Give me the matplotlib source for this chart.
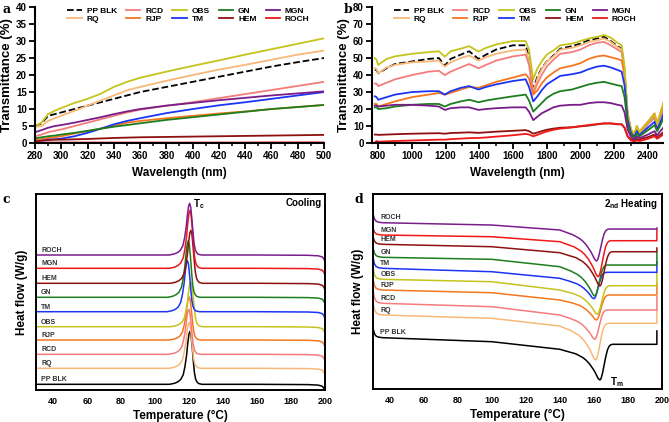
import numpy as np
import matplotlib
matplotlib.use("Agg")
import matplotlib.pyplot as plt
from matplotlib.ticker import MultipleLocator

plt.rcParams['font.family'] = ['Liberation Sans', 'DejaVu Sans']
plt.rcParams['font.weight'] = 'bold'
plt.rcParams['axes.labelweight'] = 'bold'

names = ["PP BLK", "RQ", "RCD", "RJP", "OBS", "TM", "GN", "HEM", "MGN", "ROCH"]
colors = {"PP BLK": "black", "RQ": "#f8b878", "RCD": "#f47c7c", "RJP": "#f5761e",
          "OBS": "#c4c41c", "TM": "#1c35f5", "GN": "#1e7d1e", "HEM": "#8e1010",
          "MGN": "#7a1c8a", "ROCH": "#f01818"}
# the DSC panels swap the two colours of MGN and ROCH
dsc_colors = dict(colors, MGN="#f01818", ROCH="#7a1c8a")

# ---- panel a : UV transmittance
wl_a = [280, 285, 290, 295, 300, 310, 320, 330, 340, 350, 360, 380, 400, 420, 440, 460, 480, 500]
uv = {
    "OBS":    [5, 6, 8.5, 9.5, 10.3, 11.8, 13, 14.5, 16.5, 18, 19.2, 21, 22.7, 24.3, 26, 27.6, 29.2, 30.8],
    "PP BLK": [5, 5.8, 8, 8.5, 9, 10, 11, 12, 13, 14, 15, 16.5, 18, 19.5, 21, 22.5, 23.8, 25],
    "RQ":     [4.8, 5, 6.5, 7.3, 8, 9.5, 11, 12.5, 14, 15.5, 16.5, 18.3, 20, 21.6, 23, 24.5, 26, 27.2],
    "RCD":    [2, 2.5, 3.2, 3.6, 4, 5, 6, 7, 8, 9, 9.8, 11, 12, 13.2, 14.4, 15.6, 16.8, 18],
    "MGN":    [3.2, 3.8, 4.5, 5, 5.3, 6, 6.8, 7.6, 8.5, 9.3, 10, 11, 11.8, 12.6, 13.3, 14, 14.6, 15.2],
    "TM":     [0.5, 0.7, 1, 1.1, 1.3, 2, 3, 4.2, 5.5, 6.5, 7.3, 8.8, 10, 11.1, 12, 13, 14, 15],
    "RJP":    [1, 1.2, 1.5, 1.7, 2, 2.8, 3.5, 4.3, 5, 6, 6.5, 7.3, 8, 8.7, 9.3, 10, 10.6, 11.2],
    "GN":     [1.4, 1.7, 2, 2.2, 2.5, 3, 3.6, 4.2, 4.8, 5.3, 5.8, 6.8, 7.6, 8.4, 9.2, 10, 10.6, 11.2],
    "HEM":    [0.5, 0.7, 0.9, 1, 1, 1.1, 1.2, 1.35, 1.5, 1.6, 1.7, 1.8, 1.9, 2, 2.1, 2.2, 2.3, 2.4],
    "ROCH":   [0.15, 0.15, 0.15, 0.15, 0.15, 0.15, 0.15, 0.15, 0.15, 0.15, 0.15, 0.15, 0.15, 0.15, 0.15, 0.2, 0.2, 0.2],
}

# ---- panel b : NIR transmittance
wl_b = [780, 790, 800, 850, 900, 1000, 1100, 1160, 1195, 1230, 1290, 1340, 1395, 1440, 1500, 1600, 1675,
        1695, 1720, 1745, 1770, 1800, 1840, 1880, 1950, 2000, 2050, 2100, 2140, 2180, 2220, 2245, 2262,
        2280, 2300, 2320, 2335, 2350, 2365, 2400, 2440, 2455, 2470, 2500]
nir = {
    "OBS":    [50, 49, 46, 49.5, 51, 52.5, 53.5, 54, 50.8, 54, 55.5, 57, 53.8, 56, 58, 60, 60,
               55, 37.5, 44, 48, 52, 54.5, 57.5, 58.5, 60, 61.5, 62.5, 63.5, 62, 59, 57.5, 45,
               18, 8, 5, 10, 6, 8, 12, 17, 11, 16, 26],
    "PP BLK": [43, 43, 41, 44, 46.5, 48, 49.5, 50, 45.5, 49.5, 52, 54, 49.5, 52, 55, 57.5, 57.5,
               50, 32, 39, 44, 48, 51.5, 55.5, 57, 58.5, 60.5, 61.5, 62.5, 60, 57, 55.5, 43,
               16, 7, 4, 8.5, 5, 7, 11, 15.5, 9.5, 14.5, 24],
    "RQ":     [44, 43.5, 41, 44.5, 46, 47.5, 48, 48.5, 45, 47.5, 50, 51.5, 48.5, 50.5, 52.5, 54.5, 55,
               49, 30, 38, 43.5, 48, 51, 55, 56, 57.5, 59.5, 60.5, 61.5, 59.5, 56.5, 55, 43,
               17, 8, 4.5, 9.5, 5.5, 7.5, 11.5, 16.5, 10.5, 15, 25],
    "RCD":    [35, 35, 33.5, 35.5, 37.5, 40, 42, 42.5, 40, 42, 44.5, 46.5, 44, 46, 48.5, 51, 52,
               46, 29, 35, 40, 45, 49, 52.5, 53.5, 55, 57.5, 59, 59.5, 57.5, 55, 53.5, 42,
               16, 7, 4, 8.5, 5, 7, 11, 15.5, 9.5, 14, 23],
    "RJP":    [23, 23, 21.5, 23, 24.5, 27, 28.5, 29.5, 28.5, 29.5, 31.5, 33, 32.5, 34, 36, 38.5, 40.5,
               38, 28.5, 31, 35, 38.5, 41.5, 44, 45.5, 47, 49.5, 51, 51.5, 50.5, 49.5, 48.5, 40,
               16, 8, 5, 10, 6.5, 8.5, 12.5, 17.5, 11.5, 16, 26],
    "TM":     [27.5, 27, 25.5, 27, 28.5, 30, 30.5, 30.5, 28.5, 30.5, 32.5, 33.5, 31.5, 33, 34.5, 36.5, 37.5,
               33, 24.5, 27.5, 31, 34.5, 37, 39.5, 40.5, 41.5, 43.5, 45, 45.5, 44.5, 43, 42, 34,
               14, 6, 3.5, 7, 4.5, 6, 9, 12.5, 8, 11, 19],
    "GN":     [21, 21, 20, 20.5, 21.5, 22.5, 23, 23, 21.5, 23, 24.5, 25.5, 24, 25, 26, 27.5, 28.5,
               25, 18.5, 21, 23.5, 26.5, 29, 30.5, 31.5, 33, 34.5, 35.5, 36, 35, 34, 33.5, 27,
               11, 5, 3, 5.5, 4, 5, 7.5, 10.5, 7, 9.5, 16],
    "MGN":    [22, 22, 21.5, 22, 22.5, 22.5, 22, 21.5, 19.5, 20.5, 21, 21, 19.5, 20, 20.5, 21, 21,
               18.5, 13.5, 15.5, 17.5, 19, 21, 22, 22.5, 22.5, 23.5, 24, 24, 23.5, 22.5, 22, 18,
               8, 3.5, 2, 4, 3, 3.5, 5, 7, 4.5, 6.5, 10],
    "HEM":    [5, 5, 4.8, 5, 5.2, 5.5, 5.7, 5.8, 5.5, 5.9, 6.1, 6.3, 6, 6.3, 6.7, 7.2, 7.6,
               7, 5.5, 6.2, 7, 7.8, 8.5, 9, 9.3, 9.8, 10.3, 11, 11.5, 11.5, 11, 11, 9,
               4, 2, 1.5, 2.5, 2, 2.5, 3.5, 5, 3, 4.5, 7],
    "ROCH":   [0.3, 1.2, 0.8, 1, 1.2, 1.5, 1.8, 2, 2, 2.3, 2.6, 2.9, 3, 3.3, 3.8, 4.6, 5.4,
               5, 4, 4.8, 5.8, 6.8, 7.8, 8.5, 9.2, 10, 10.6, 11.2, 11.6, 11.6, 11.2, 11, 9,
               4, 1.5, 1, 1.5, 1.2, 1.5, 2.5, 4, 2.5, 3.5, 5.5],
}

# ---- panel c : DSC cooling (stacked, arbitrary units)
c_base = {"PP BLK": 5.7, "RQ": 21.7, "RCD": 35.7, "RJP": 50, "OBS": 63.3,
          "TM": 78.3, "GN": 92.7, "HEM": 106.7, "MGN": 121.7, "ROCH": 135}
c_tc = {"PP BLK": 120.5, "RQ": 120, "RCD": 119.8, "RJP": 120, "OBS": 121,
        "TM": 119, "GN": 119.5, "HEM": 121, "MGN": 120.5, "ROCH": 120.3}
c_height = {"PP BLK": 53, "RQ": 46, "RCD": 45, "RJP": 43, "OBS": 45,
            "TM": 51, "GN": 56.6, "HEM": 53, "MGN": 58, "ROCH": 51.7}
# peak profile (offset from Tc, fraction of height)
c_peak_dt = [-12, -9, -7, -5.5, -4, -3, -2, -1.3, -0.6, 0, 0.6, 1.3, 2, 2.6, 3.3, 4, 5, 7]
c_peak_fr = [0, 0.02, 0.05, 0.09, 0.18, 0.33, 0.55, 0.78, 0.95, 1.0, 0.93, 0.7, 0.42, 0.22, 0.1, 0.05, 0.015, 0]
c_left_t = [30, 60, 90, 100]
c_right_t = [130, 160, 190, 196, 198.5, 199.5, 200]
c_right_dy = [0, 0, -0.3, -0.8, -2, -4.5, -7]

# ---- panel d : DSC 2nd heating
d_hook = {"PP BLK": 64.7, "RQ": 92.3, "RCD": 104, "RJP": 114, "OBS": 125.7,
          "TM": 135.7, "GN": 145.7, "HEM": 155.7, "MGN": 164, "ROCH": 179}
d_b35 = {"PP BLK": 51.3, "RQ": 74, "RCD": 85.7, "RJP": 99, "OBS": 109.7,
         "TM": 120.7, "GN": 131.7, "HEM": 144.7, "MGN": 154, "ROCH": 166.3}
d_b100 = {"PP BLK": 47.3, "RQ": 70.7, "RCD": 82.3, "RJP": 96.3, "OBS": 107.3,
          "TM": 117.3, "GN": 129.7, "HEM": 142.3, "MGN": 152.3, "ROCH": 164}
d_b140 = {"PP BLK": 39.7, "RQ": 63, "RCD": 74, "RJP": 89, "OBS": 99,
          "TM": 110.7, "GN": 122.3, "HEM": 136.3, "MGN": 147.3, "ROCH": 159}
d_tm = {"PP BLK": 163.5, "RQ": 161, "RCD": 160.5, "RJP": 161.5, "OBS": 162,
        "TM": 160, "GN": 160.5, "HEM": 163.5, "MGN": 162.5, "ROCH": 161.5}
d_min = {"PP BLK": 9, "RQ": 29, "RCD": 49.7, "RJP": 69, "OBS": 74.7,
         "TM": 90.3, "GN": 93, "HEM": 103, "MGN": 112.3, "ROCH": 128}
d_flat = {"PP BLK": 44.7, "RQ": 65.7, "RCD": 79, "RJP": 94, "OBS": 103.3,
          "TM": 116.7, "GN": 124, "HEM": 137.3, "MGN": 148.3, "ROCH": 160}
d_end = {"PP BLK": 58, "RQ": 79, "RCD": 92.3, "RJP": 105.7, "OBS": 115.7,
         "TM": 127.3, "GN": 137, "HEM": 141, "MGN": 159, "ROCH": 161}
d_hook_t = [30, 30.4, 31, 32, 33.5, 36]
d_hook_fr = [1, 0.6, 0.3, 0.12, 0.04, 0]
d_down_dt = [-14, -10, -8, -6, -4, -3, -2, -1, 0]
d_down_fr = [0.15, 0.27, 0.36, 0.48, 0.64, 0.73, 0.84, 0.95, 1.0]
d_up_dt = [0.7, 1.5, 2.5, 3.5, 4.5, 5.5, 6.5, 7.5]
d_up_fr = [0.96, 0.82, 0.58, 0.34, 0.15, 0.05, 0.01, 0]

fig = plt.figure(figsize=(6.69, 4.22), dpi=100)
ax_a = fig.add_axes([0.0523, 0.661, 0.432, 0.3223])
ax_b = fig.add_axes([0.556, 0.661, 0.435, 0.3223])
ax_c = fig.add_axes([0.0543, 0.0758, 0.4315, 0.4645])
ax_d = fig.add_axes([0.5571, 0.0782, 0.4324, 0.462])

def style_spectrum(ax):
    for s in ["top", "right"]:
        ax.spines[s].set_visible(False)
    for s in ["left", "bottom"]:
        ax.spines[s].set_linewidth(1.5)
    ax.tick_params(which="major", length=4, width=1.3, labelsize=7, pad=2)
    ax.tick_params(which="minor", length=2.5, width=1.1)
    for lab in ax.get_xticklabels() + ax.get_yticklabels():
        lab.set_fontweight("bold")
    ax.set_xlabel("Wavelength (nm)", fontsize=8.5, labelpad=4)
    ax.set_ylabel("Transmittance (%)", fontsize=9.5, labelpad=2)

for ax, x, data, lx in [(ax_a, wl_a, uv, 0.095), (ax_b, wl_b, nir, 0.06)]:
    for n in names:
        ls = "--" if n == "PP BLK" else "-"
        ax.plot(x, data[n], color=colors[n], ls=ls, lw=1.3, label=n)
    ax.legend(ncol=5, loc="upper left", bbox_to_anchor=(lx, 1.035), frameon=False,
              handlelength=1.7, handletextpad=0.6, columnspacing=1.1, labelspacing=0.05,
              borderaxespad=0.2, prop={"weight": "bold", "size": 6})

ax_a.set_xlim(280, 500)
ax_a.set_ylim(0, 40)
ax_a.xaxis.set_major_locator(MultipleLocator(20))
ax_a.xaxis.set_minor_locator(MultipleLocator(10))
ax_a.yaxis.set_major_locator(MultipleLocator(5))
style_spectrum(ax_a)

ax_b.set_xlim(763, 2490)
ax_b.set_ylim(0, 80)
ax_b.xaxis.set_major_locator(MultipleLocator(200))
ax_b.xaxis.set_minor_locator(MultipleLocator(100))
ax_b.yaxis.set_major_locator(MultipleLocator(10))
style_spectrum(ax_b)

# cooling curves
for n in names:
    b, tc, h = c_base[n], c_tc[n], c_height[n]
    t = list(c_left_t) + [tc + d for d in c_peak_dt] + list(c_right_t)
    y = [b] * len(c_left_t) + [b + h * f for f in c_peak_fr] + [b + d for d in c_right_dy]
    ax_c.plot(t, y, color=dsc_colors[n], lw=1.1)
    ax_c.text(32.8, b + 3.2, n, fontsize=5, fontweight="bold", color="#333333")
ax_c.text(122.3, 183, "T$_\\mathregular{c}$", fontsize=7, fontweight="bold")
ax_c.text(198, 184, "Cooling", fontsize=7, fontweight="bold", ha="right")
ax_c.set_xlim(30, 200)
ax_c.set_ylim(0, 196)

# 2nd heating curves
for n in names:
    t = list(d_hook_t) + [100, 140]
    y = [d_b35[n] + (d_hook[n] - d_b35[n]) * f for f in d_hook_fr] + [d_b100[n], d_b140[n]]
    tm = d_tm[n]
    t += [tm + d for d in d_down_dt]
    y += [d_b140[n] - (d_b140[n] - d_min[n]) * f for f in d_down_fr]
    t += [tm + d for d in d_up_dt]
    y += [d_flat[n] - (d_flat[n] - d_min[n]) * f for f in d_up_fr]
    t += [197, 197]
    y += [d_flat[n], d_end[n]]
    ax_d.plot(t, y, color=dsc_colors[n], lw=1.1)
    ax_d.text(34.5, d_b35[n] + 3.5, n, fontsize=5, fontweight="bold", color="#333333")
ax_d.text(169.5, 4, "T$_\\mathregular{m}$", fontsize=7, fontweight="bold")
ax_d.text(197.5, 182, "2$_\\mathregular{nd}$ Heating", fontsize=7, fontweight="bold", ha="right")
ax_d.set_xlim(30, 200)
ax_d.set_ylim(0, 195)

for ax in [ax_c, ax_d]:
    for s in ax.spines.values():
        s.set_linewidth(1.4)
    ax.set_yticks([])
    ax.set_xticks(range(40, 201, 20))
    ax.tick_params(axis="x", length=0, labelsize=6.5, pad=5)
    for lab in ax.get_xticklabels():
        lab.set_fontweight("bold")
    ax.set_xlabel("Temperature (\u00b0C)", fontsize=8.5, labelpad=3)
    ax.set_ylabel("Heat flow (W/g)", fontsize=8.5, labelpad=6)

for lbl, x, y in [("a", 0.004, 0.978), ("b", 0.514, 0.978), ("c", 0.004, 0.528), ("d", 0.53, 0.528)]:
    fig.text(x, y, lbl, fontsize=9, fontweight="bold", family="DejaVu Serif", va="center")

fig.savefig("out.png", dpi=100)
